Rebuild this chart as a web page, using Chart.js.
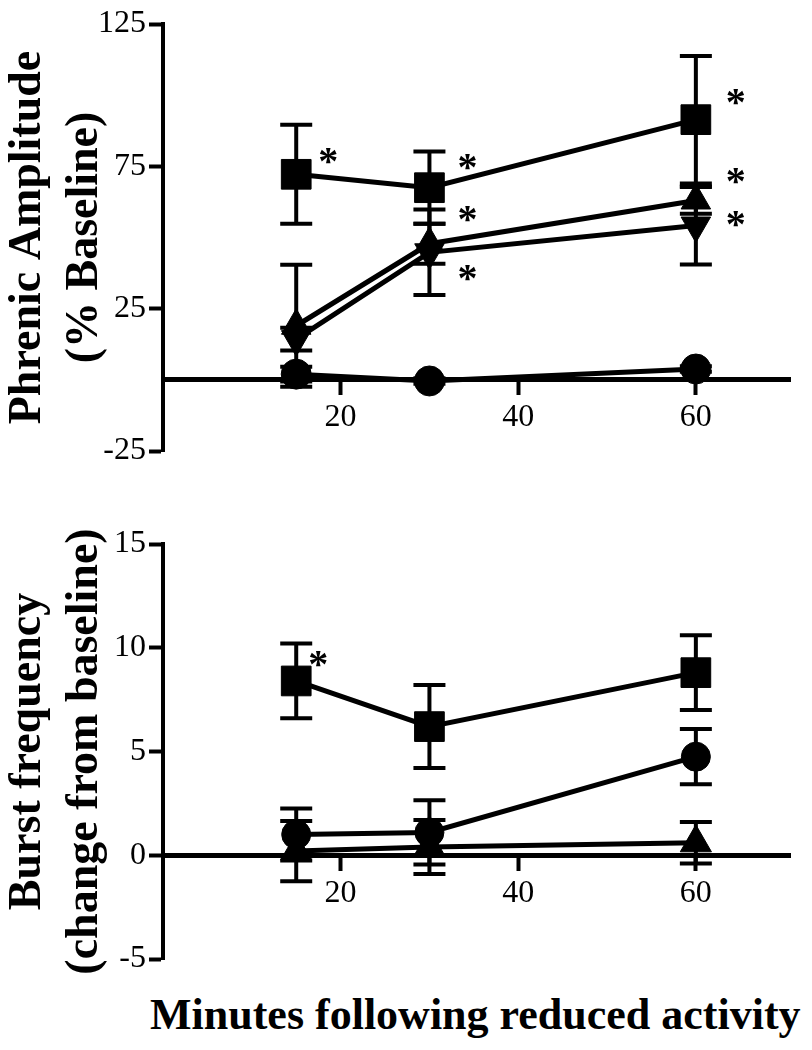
<!DOCTYPE html>
<html>
<head>
<meta charset="utf-8">
<script src="https://cdn.jsdelivr.net/npm/chart.js@4/dist/chart.umd.min.js"></script>
<style>
  body { margin: 0; background: #fff; width: 812px; height: 1050px; position: relative; overflow: hidden; }
  canvas { position: absolute; left: 0; }
  #xTitle { position: absolute; left: 150px; top: 993px; font: bold 44px "Liberation Serif", serif; line-height: 44px; color: #000; white-space: nowrap; }
</style>
</head>
<body>
<canvas id="amp" width="812" height="480" style="top:0"></canvas>
<canvas id="freq" width="812" height="490" style="top:500px"></canvas>
<div id="xTitle">Minutes following reduced activity</div>

<script>
// minutes after reduced activity
const minutes = [15, 30, 60]
const xTicks = [20, 40, 60]

// top panel - phrenic amplitude (% baseline), mean and SEM
const ampSquare = [72.2, 67.5, 91.4]
const ampSquareErr = [17.4, 12.7, 22.4]
const ampUp = [19.0, 47.8, 63.0]
const ampUpErr = [21.4, 7.0, 4.7]
const ampDown = [14.3, 44.8, 54.2]
const ampDownErr = [4.0, 15.0, 13.7]
const ampCircle = [2.0, -0.4, 3.8]
const ampCircleErr = [2.6, 1.0, 1.0]
const ampTicks = [-25, 25, 75, 125]

// bottom panel - burst frequency (change from baseline)
const freqSquare = [8.4, 6.2, 8.8]
const freqSquareErr = [1.8, 2.0, 1.8]
const freqCircle = [1.0, 1.1, 4.75]
const freqCircleErr = [1.25, 1.55, 1.33]
const freqTri = [0.2, 0.4, 0.6]
const freqTriErr = [1.45, 1.3, 1.0]
const freqTicks = [-5, 0, 5, 10, 15]

const serif = 'Liberation Serif'

function series(values, errors, shape, radius, rotation, stars) {
    return {
        data: values.map((v, i) => ({ x: minutes[i], y: v })),
        errors: errors,
        stars: stars || [],
        borderColor: '#000',
        backgroundColor: '#000',
        borderWidth: 5,
        pointStyle: shape,
        pointRadius: radius,
        pointRotation: rotation,
        pointBorderColor: '#000',
        pointBorderWidth: 1,
        tension: 0
    }
}

// error bars behind the markers, asterisks after
const extras = {
    id: 'extras',
    beforeDatasetsDraw(chart) {
        const ctx = chart.ctx, xs = chart.scales.x, ys = chart.scales.y
        ctx.save()
        ctx.strokeStyle = '#000'
        ctx.lineWidth = 4
        chart.data.datasets.forEach(ds => {
            ds.data.forEach((p, i) => {
                const e = ds.errors[i]
                const px = xs.getPixelForValue(p.x)
                const hi = ys.getPixelForValue(p.y + e)
                const lo = ys.getPixelForValue(p.y - e)
                ctx.beginPath()
                ctx.moveTo(px, hi); ctx.lineTo(px, lo)
                ctx.moveTo(px - 16, hi); ctx.lineTo(px + 16, hi)
                ctx.moveTo(px - 16, lo); ctx.lineTo(px + 16, lo)
                ctx.stroke()
            })
        })
        ctx.restore()
    },
    afterDatasetsDraw(chart) {
        const ctx = chart.ctx, xs = chart.scales.x, ys = chart.scales.y
        ctx.save()
        ctx.fillStyle = '#000'
        ctx.font = 'bold 40px "' + serif + '"'
        ctx.textAlign = 'center'
        ctx.textBaseline = 'alphabetic'
        chart.data.datasets.forEach(ds => {
            ds.stars.forEach(s => {
                const p = ds.data[s.i]
                ctx.fillText('*', xs.getPixelForValue(p.x) + s.dx, ys.getPixelForValue(p.y) + s.dy + 19)
            })
        })
        ctx.restore()
    }
}

function makeChart(id, datasets, yMin, yMax, yTicks, title, pad) {
    return new Chart(document.getElementById(id), {
        type: 'line',
        data: { datasets: datasets },
        plugins: [extras],
        options: {
            responsive: false,
            animation: false,
            layout: { padding: pad },
            plugins: { legend: { display: false }, tooltip: { enabled: false } },
            scales: {
                x: {
                    type: 'linear',
                    min: 0,
                    max: 70.6,
                    position: { y: 0 },
                    afterBuildTicks: s => { s.ticks = xTicks.map(v => ({ value: v })) },
                    grid: { drawOnChartArea: false, tickLength: 13, tickWidth: 4, tickColor: '#000' },
                    border: { color: '#000', width: 5 },
                    ticks: { color: '#000', font: { family: serif, size: 32 }, padding: 6, maxRotation: 0 }
                },
                y: {
                    min: yMin,
                    max: yMax,
                    afterBuildTicks: s => { s.ticks = yTicks.map(v => ({ value: v })) },
                    afterFit: s => { s.width = 163 },
                    grid: { drawOnChartArea: false, tickLength: 14, tickWidth: 4, tickColor: '#000' },
                    border: { color: '#000', width: 4 },
                    ticks: { color: '#000', font: { family: serif, size: 32 }, padding: 3 },
                    title: {
                        display: true,
                        text: title,
                        color: '#000',
                        font: { family: serif, size: 46, weight: 'bold', lineHeight: 1.24 },
                        padding: { top: 0, bottom: 0 }
                    }
                }
            }
        }
    })
}

makeChart('amp', [
    series(ampSquare, ampSquareErr, 'rect', 21, 0, [{ i: 0, dx: 32, dy: -19 }, { i: 1, dx: 38, dy: -27 }, { i: 2, dx: 40, dy: -24 }]),
    series(ampUp, ampUpErr, 'triangle', 17, 0, [{ i: 1, dx: 38, dy: -31 }, { i: 2, dx: 40, dy: -25 }]),
    series(ampDown, ampDownErr, 'triangle', 17, 180, [{ i: 1, dx: 38, dy: 20 }, { i: 2, dx: 40, dy: -8 }]),
    series(ampCircle, ampCircleErr, 'circle', 15, 0)
], -25, 125, ampTicks, ['Phrenic Amplitude', '(% Baseline)'], { top: 24, right: 12, bottom: 29, left: 0 })

makeChart('freq', [
    series(freqSquare, freqSquareErr, 'rect', 21, 0, [{ i: 0, dx: 22, dy: -23 }]),
    series(freqCircle, freqCircleErr, 'circle', 14.5, 0),
    series(freqTri, freqTriErr, 'triangle', 18, 0)
], -5, 15, freqTicks, ['Burst frequency', '(change from baseline)'], { top: 44, right: 12, bottom: 31, left: 0 })
</script>
</body>
</html>
